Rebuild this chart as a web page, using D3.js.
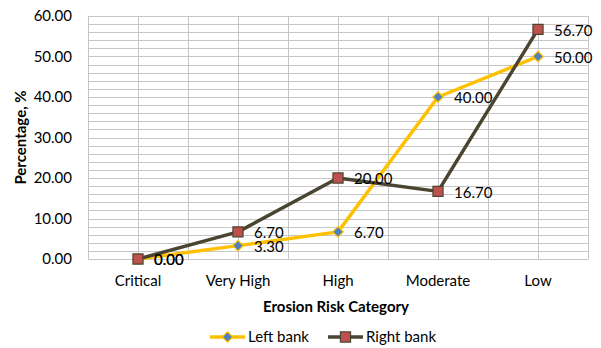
<!DOCTYPE html>
<html>
<head>
<meta charset="utf-8">
<script src="https://cdn.jsdelivr.net/npm/d3@7"></script>
<style>
  html, body { margin: 0; padding: 0; background: #fff; }
  text { font-family: Lato, "Open Sans", sans-serif; fill: #000; }
</style>
</head>
<body>
<svg id="chart" width="601" height="348"></svg>
<script>
// Share of bank length in each erosion risk category
const categories = ["Critical", "Very High", "High", "Moderate", "Low"];
const leftBank = [0.00, 3.30, 6.70, 40.00, 50.00];
const rightBank = [0.00, 6.70, 20.00, 16.70, 56.70];
const yTicks = [0, 10, 20, 30, 40, 50, 60];
const seriesNames = ["Left bank", "Right bank"];

const svg = d3.select("#chart");
const plot = { left: 88, right: 588, top: 16, bottom: 259 };
const fs = "15px";

const x = d3.scaleBand().domain(categories).range([plot.left, plot.right]);
const y = d3.scaleLinear().domain([0, 60]).range([plot.bottom, plot.top]);
const cx = d => x(d) + x.bandwidth() / 2;

const gridColor = "#c6c6c6";

// Horizontal gridlines every 2 units
const g = svg.append("g");
g.selectAll("line.h").data(d3.range(0, 61, 2)).join("line")
  .attr("x1", plot.left).attr("x2", plot.right)
  .attr("y1", d => Math.round(y(d)) + 0.5).attr("y2", d => Math.round(y(d)) + 0.5)
  .attr("stroke", gridColor).attr("stroke-width", 1);

// Vertical gridlines at category edges and centres
const vx = [];
categories.forEach(c => { vx.push(x(c)); vx.push(cx(c)); });
vx.push(plot.right);
g.selectAll("line.v").data(vx).join("line")
  .attr("x1", d => Math.round(d) + 0.5).attr("x2", d => Math.round(d) + 0.5)
  .attr("y1", plot.top).attr("y2", plot.bottom)
  .attr("stroke", gridColor).attr("stroke-width", 1);

// Y axis tick labels
svg.append("g").selectAll("text").data(yTicks).join("text")
  .attr("x", 72).attr("y", d => y(d))
  .attr("dy", "0.35em").attr("text-anchor", "end")
  .style("font-size", fs)
  .text(d => d3.format(".2f")(d));

// X axis tick labels
svg.append("g").selectAll("text").data(categories).join("text")
  .attr("x", d => cx(d)).attr("y", 281)
  .attr("dy", "0.35em").attr("text-anchor", "middle")
  .style("font-size", fs)
  .text(d => d);

// Axis titles
svg.append("text")
  .attr("x", (plot.left + plot.right) / 2 - 2).attr("y", 307)
  .attr("dy", "0.35em").attr("text-anchor", "middle")
  .style("font-size", fs).style("font-weight", "bold")
  .text("Erosion Risk Category");

svg.append("text")
  .attr("transform", `translate(21,${(plot.top + plot.bottom) / 2}) rotate(-90)`)
  .attr("dy", "0.35em").attr("text-anchor", "middle")
  .style("font-size", fs).style("font-weight", "bold")
  .text("Percentage, %");

const leftColor = "#ffc000";
const rightColor = "#4a4530";
const diamondFill = "#4f81bd";
const squareFill = "#c0504d";

const line = d3.line().x((d, i) => cx(categories[i])).y(d => y(d));
const diamond = d3.symbol().type(d3.symbolDiamond2).size(70);
const square = d3.symbol().type(d3.symbolSquare2).size(130);

function drawSeries(values, color, sym, fill, stroke) {
  const s = svg.append("g");
  s.append("path").datum(values)
    .attr("d", line).attr("fill", "none")
    .attr("stroke", color).attr("stroke-width", 3.5)
    .attr("stroke-linejoin", "round");
  s.selectAll("path.m").data(values).join("path")
    .attr("class", "m")
    .attr("d", sym)
    .attr("transform", (d, i) => `translate(${cx(categories[i])},${y(d)})`)
    .attr("fill", fill).attr("stroke", stroke).attr("stroke-width", 1.2);
  return s;
}

drawSeries(leftBank, leftColor, diamond, diamondFill, leftColor);
drawSeries(rightBank, rightColor, square, squareFill, rightColor);

// Data labels to the right of each marker
function labels(values) {
  svg.append("g").selectAll("text").data(values).join("text")
    .attr("x", (d, i) => cx(categories[i]) + 16)
    .attr("y", d => y(d) + 1)
    .attr("dy", "0.35em")
    .style("font-size", fs)
    .text(d => d3.format(".2f")(d));
}
labels(leftBank);
labels(rightBank);

// Legend
const legend = svg.append("g");
const legY = 337;
const items = [
  { name: seriesNames[0], color: leftColor, sym: diamond, fill: diamondFill, x0: 210 },
  { name: seriesNames[1], color: rightColor, sym: square, fill: squareFill, x0: 328 }
];
items.forEach(it => {
  legend.append("line")
    .attr("x1", it.x0).attr("x2", it.x0 + 35)
    .attr("y1", legY).attr("y2", legY)
    .attr("stroke", it.color).attr("stroke-width", 3.5);
  legend.append("path")
    .attr("d", it.sym)
    .attr("transform", `translate(${it.x0 + 17.5},${legY})`)
    .attr("fill", it.fill).attr("stroke", it.color).attr("stroke-width", 1.2);
  legend.append("text")
    .attr("x", it.x0 + 38).attr("y", legY)
    .attr("dy", "0.35em")
    .style("font-size", fs)
    .text(it.name);
});
</script>
</body>
</html>
